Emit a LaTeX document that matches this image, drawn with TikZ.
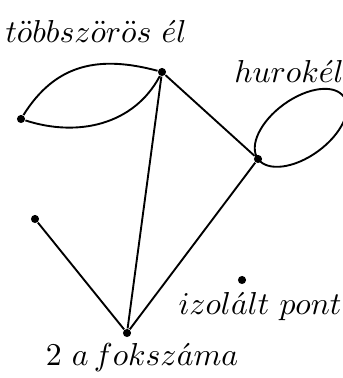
\documentclass[tikz,border=0pt]{standalone}
\usetikzlibrary{calc}
\begin{document}
\begin{tikzpicture}[x=0.345pt, y=0.345pt,
    vertex/.style={circle, fill=black, inner sep=0pt, minimum size=2.8pt},
    edge/.style={line width=0.65pt},
    felirat/.style={font=\fontsize{10.5}{12.5}\selectfont, inner sep=1pt}]
    \useasboundingbox (0,0) rectangle (343,378);

    % csúcsok
    \node[vertex] (A) at (21, 259) {};
    \node[vertex] (B) at (162, 306) {};
    \node[vertex] (C) at (258, 219) {};
    \node[vertex] (D) at (35, 159) {};
    \node[vertex] (E) at (127, 45) {};
    \node[vertex] (F) at (242, 98) {};

    % többszörös él
    \draw[edge] (A) to[out=58, in=165, looseness=1.1] (B);
    \draw[edge] (A) to[out=-18, in=-118] (B);

    % élek
    \draw[edge] (B) -- (C);
    \draw[edge] (B) -- (E);
    \draw[edge] (C) -- (E);
    \draw[edge] (D) -- (E);

    % hurokél
    \path (C) ++(36:53) coordinate (L);
    \draw[edge, rotate around={36:(L)}] (L) ellipse (53 and 29);

    % feliratok
    \node[felirat] (t1) at (96, 347) {$t\ddot{o}bbsz\ddot{o}r\ddot{o}s\ \acute{e}l$};
    \node[felirat] (t2) at (289, 307) {$hurok\acute{e}l$};
    \node[felirat] (t3) at (260, 71) {$izol\acute{a}lt\ pont$};
    \node[felirat] (t4) at (142, 20) {$2\ a\,fok sz\acute{a}ma$};
\end{tikzpicture}
\end{document}
